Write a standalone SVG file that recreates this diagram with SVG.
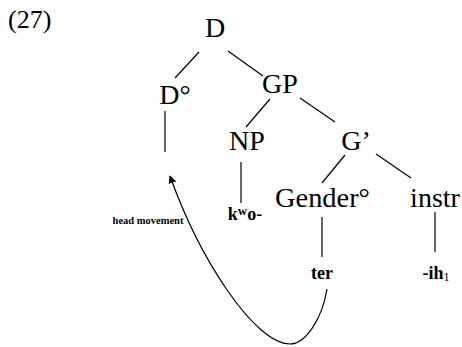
<svg xmlns="http://www.w3.org/2000/svg" width="462" height="347" viewBox="0 0 462 347">
<style>
.n{font-family:"Liberation Serif","Times New Roman",serif;font-size:28px;fill:#000;text-anchor:middle}
.b{font-family:"Liberation Serif","Times New Roman",serif;font-size:18px;font-weight:bold;fill:#000;text-anchor:middle}
.s{font-family:"Liberation Serif","Times New Roman",serif;font-size:10.5px;font-weight:bold;fill:#000;text-anchor:middle}
.e{stroke:#000;stroke-width:1.2;fill:none}
</style>
<defs>
<marker id="ah" viewBox="0 0 10 10" refX="9" refY="5" markerWidth="8" markerHeight="8" markerUnits="userSpaceOnUse" orient="auto">
<path d="M0,0 L10,5 L0,10 Z" fill="#000"/>
</marker>
</defs>
<rect width="462" height="347" fill="#fff"/>
<text x="8" y="28" font-family="Liberation Serif, Times New Roman, serif" font-size="26">(27)</text>
<g id="connectors">
<line class="e" x1="199" y1="52" x2="175" y2="78"/>
<line class="e" x1="228" y1="51" x2="263" y2="76"/>
<line class="e" x1="165" y1="111" x2="165" y2="152"/>
<line class="e" x1="270" y1="99" x2="246" y2="127"/>
<line class="e" x1="300" y1="98" x2="335" y2="122"/>
<line class="e" x1="241" y1="162" x2="241" y2="203"/>
<line class="e" x1="345" y1="155" x2="322" y2="183"/>
<line class="e" x1="376" y1="154" x2="411" y2="178"/>
<line class="e" x1="322" y1="217" x2="322" y2="257"/>
<line class="e" x1="435" y1="212" x2="435" y2="252"/>
<path class="e" d="M327,289 C322,320 305,344 290,344 C255,344 200,260 170,176" marker-end="url(#ah)"/>
</g>
<g id="node-D"><text class="n" x="215" y="37">D</text></g>
<g id="node-Dhead"><text class="n" x="175" y="104">D°</text></g>
<g id="node-GP"><text class="n" x="280" y="93">GP</text></g>
<g id="node-NP"><text class="n" x="247" y="150">NP</text></g>
<g id="node-Gbar"><text class="n" x="356" y="150">G’</text></g>
<g id="node-Gender"><text class="n" x="322.5" y="207" font-size="30" textLength="95" lengthAdjust="spacingAndGlyphs">Gender°</text></g>
<g id="node-instr"><text class="n" x="435" y="207">instr</text></g>
<g id="node-kwo"><text class="b" x="245" y="220">k<tspan font-size="13" dy="-5">w</tspan><tspan dy="5">o-</tspan></text></g>
<g id="node-ter"><text class="b" x="322" y="279">ter</text></g>
<g id="node-ih1"><text class="b" x="436" y="279">-ih<tspan font-size="12" font-weight="normal" dy="2">1</tspan></text></g>
<g id="label-head-movement"><text class="s" x="148" y="224">head movement</text></g>
</svg>
